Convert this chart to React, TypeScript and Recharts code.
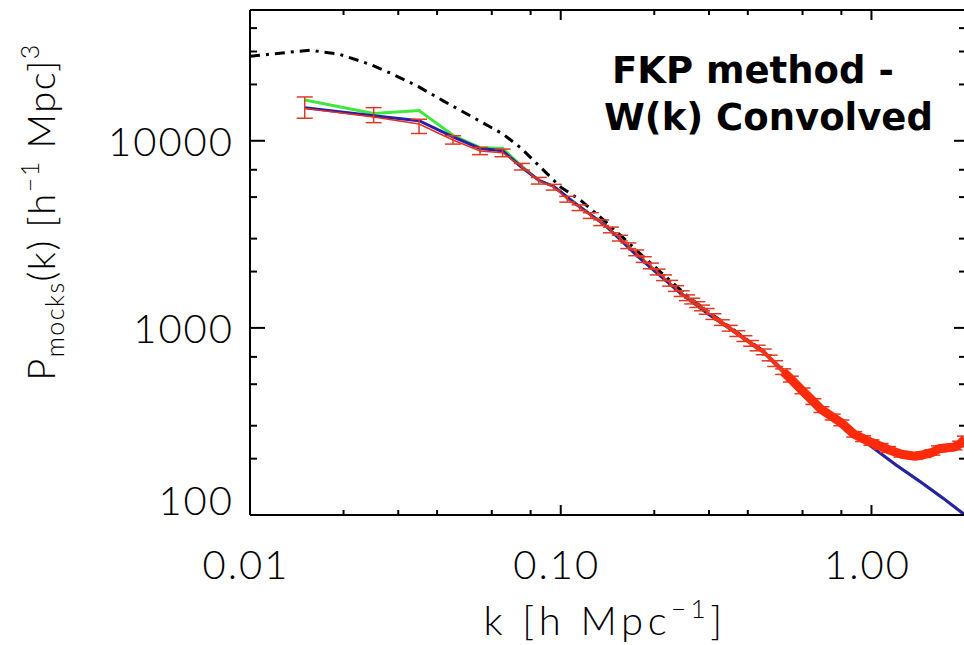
import { LineChart, Line, XAxis, YAxis, ErrorBar, Customized } from 'recharts';

// tick positions and labels
const K_MAJOR = [0.01, 0.1, 1];
const K_MAJOR_LABELS = ['0.01', '0.10', '1.00'];
const K_TICKS = [
  0.01, 0.02, 0.03, 0.04, 0.05, 0.06, 0.07, 0.08, 0.09,
  0.1, 0.2, 0.3, 0.4, 0.5, 0.6, 0.7, 0.8, 0.9, 1,
];
const P_MAJOR = [100, 1000, 10000];
const P_MAJOR_LABELS = ['100', '1000', '10000'];
const P_TICKS = [
  100, 200, 300, 400, 500, 600, 700, 800, 900,
  1000, 2000, 3000, 4000, 5000, 6000, 7000, 8000, 9000,
  10000, 20000, 30000, 40000,
];

// unconvolved / reference curve (dash-dot)
const blackK = [0.01, 0.0156, 0.0194, 0.0242, 0.0283, 0.0346, 0.042, 0.0524, 0.065, 0.0743, 0.0883, 0.1, 0.116, 0.138, 0.16, 0.185, 0.22, 0.257, 0.3, 0.35, 0.4, 0.45];
const blackP = [28300, 30500, 29000, 25700, 23000, 19600, 16300, 13300, 10900, 9180, 6930, 5650, 4800, 3750, 3000, 2390, 1850, 1470, 1210, 1010, 860, 750];

// model curves
const modelK = [0.015, 0.025, 0.035, 0.045, 0.055, 0.065, 0.075, 0.085, 0.095, 0.11, 0.14, 0.18, 0.24, 0.3, 0.4, 0.44, 0.5, 0.6, 0.69, 0.8, 0.9, 1.0, 1.2, 1.44, 1.7, 2.0];
const blueP = [15000, 13600, 12800, 10500, 9100, 8850, 7200, 6150, 5700, 4700, 3500, 2350, 1560, 1180, 850, 768, 630, 465, 368, 305, 262, 232, 185, 150, 123, 100];
const greenP = [16500, 14000, 14500, 10700, 9200, 9100, 7300, 6150, 5700, 4700, 3500, 2350, 1560, 1180, 850, 768, 630, 465, 368, 305, 262, 232, 185, 150, 123, 100];

// mean of mocks with error bars
const redK = [
  0.015, 0.025, 0.035, 0.045, 0.055, 0.065, 0.075, 0.085, 0.095, 0.105,
  0.115, 0.125, 0.135, 0.145, 0.155, 0.165, 0.175, 0.185, 0.195, 0.205,
  0.215, 0.225, 0.235, 0.245, 0.255, 0.265, 0.275, 0.285, 0.295, 0.31,
  0.33, 0.35, 0.37, 0.39, 0.41, 0.43, 0.45, 0.47, 0.49, 0.52,
  0.55, 0.6, 0.65, 0.69, 0.75, 0.8, 0.88, 0.94, 1.0, 1.07,
  1.13, 1.25, 1.38, 1.47, 1.57, 1.65, 1.75, 1.85, 1.93, 2.0,
];
const redP = [
  14900, 13400, 12300, 10100, 8820, 8630, 7280, 6120, 5650, 4875,
  4390, 3985, 3650, 3340, 3020, 2750, 2520, 2320, 2145, 1990,
  1854, 1733, 1624, 1525, 1450, 1392, 1333, 1279, 1226, 1150,
  1068, 996, 933, 877, 827, 781, 745, 691, 645, 584,
  533, 461, 404, 366, 334, 311, 270, 256, 244, 233,
  224, 211, 206, 210, 216, 226, 229, 231, 240, 255,
];
const redErrLo = [
  1700, 900, 1360, 500, 390, 410, 300, 250, 200, 175,
  155, 140, 128, 117, 106, 96, 88, 81, 75, 70,
  65, 61, 57, 53, 51, 49, 47, 45, 43, 40,
  37, 35, 33, 31, 29, 27, 26, 24, 23, 20,
  19, 16, 14, 13, 12, 11, 9, 9, 8, 8,
  8, 7, 7, 7, 7, 8, 8, 8, 8, 9,
];
const redErrHi = [
  2250, 1640, 740, 540, 390, 400, 290, 250, 200, 175,
  155, 140, 128, 117, 106, 96, 88, 81, 75, 70,
  65, 61, 57, 53, 51, 49, 47, 45, 43, 40,
  37, 35, 33, 31, 29, 27, 26, 24, 23, 20,
  19, 16, 14, 13, 12, 11, 9, 9, 8, 8,
  8, 7, 7, 7, 7, 8, 8, 8, 8, 9,
];

const blackData = blackK.map((k, i) => ({ k, p: blackP[i] }));
const blueData = modelK.map((k, i) => ({ k, p: blueP[i] }));
const greenData = modelK.map((k, i) => ({ k, p: greenP[i] }));
const redData = redK.map((k, i) => ({ k, p: redP[i], err: [redErrLo[i], redErrHi[i]] }));
const redMid = redData.filter(d => d.k >= 0.3 && d.k <= 0.6);
const redTail = redData.filter(d => d.k >= 0.52);

const tickFont = {
  fontFamily: 'Lato, "DejaVu Sans", sans-serif',
  fontWeight: 300,
  fontSize: 40,
  letterSpacing: 2,
  fill: '#000',
};

const axisLine = { stroke: '#000', strokeWidth: 2 };

// eslint-disable-next-line @typescript-eslint/no-explicit-any
const BottomTick = ({ x, y, payload }: any) => {
  const i = K_MAJOR.indexOf(payload.value);
  return (
    <g>
      <line x1={x} x2={x} y1={y} y2={y - (i >= 0 ? 10 : 5)} stroke="#000" strokeWidth={2} />
      {i >= 0 && (
        <text x={x - 4} y={y + 64} textAnchor="middle" style={tickFont}>
          {K_MAJOR_LABELS[i]}
        </text>
      )}
    </g>
  );
};

// eslint-disable-next-line @typescript-eslint/no-explicit-any
const TopTick = ({ x, y, payload }: any) => {
  const major = K_MAJOR.includes(payload.value);
  return <line x1={x} x2={x} y1={y} y2={y + (major ? 10 : 5)} stroke="#000" strokeWidth={2} />;
};

// eslint-disable-next-line @typescript-eslint/no-explicit-any
const LeftTick = ({ x, y, payload }: any) => {
  const i = P_MAJOR.indexOf(payload.value);
  // the lowest label sits on the axis instead of being centred on it
  const dy = payload.value === 100 ? 0 : 15;
  return (
    <g>
      <line x1={x} x2={x + (i >= 0 ? 15 : 7)} y1={y} y2={y} stroke="#000" strokeWidth={2} />
      {i >= 0 && (
        <text x={x - 16} y={y + dy} textAnchor="end" style={tickFont}>
          {P_MAJOR_LABELS[i]}
        </text>
      )}
    </g>
  );
};

// eslint-disable-next-line @typescript-eslint/no-explicit-any
const RightTick = ({ x, y, payload }: any) => {
  const major = P_MAJOR.includes(payload.value);
  return <line x1={x} x2={x - (major ? 11 : 6)} y1={y} y2={y} stroke="#000" strokeWidth={2} />;
};

const Annotations = () => (
  <g>
    <text
      transform="translate(55, 212) rotate(-90)"
      textAnchor="middle"
      style={{ ...tickFont, fontSize: 38, letterSpacing: 1.5 }}
    >
      <tspan>P</tspan>
      <tspan fontSize={25} dy={9}>mocks</tspan>
      <tspan dy={-9}>(k) [h</tspan>
      <tspan fontSize={25} dy={-16}>−1</tspan>
      <tspan dy={16}> Mpc]</tspan>
      <tspan fontSize={25} dy={-16}>3</tspan>
    </text>
    <text x={605} y={635} textAnchor="middle" style={{ ...tickFont, letterSpacing: 4.5 }}>
      <tspan>k [h Mpc</tspan>
      <tspan fontSize={26} dy={-17}>−1</tspan>
      <tspan dy={17}>]</tspan>
    </text>
    <g style={{ fontFamily: '"DejaVu Sans", sans-serif', fontWeight: 700, fontSize: 37, fill: '#000' }}>
      <text x={612} y={83}>FKP method -</text>
      <text x={604} y={130}>W(k) Convolved</text>
    </g>
  </g>
);

export default function App() {
  return (
    <div style={{ position: 'absolute', left: 0, top: 0, width: 964, height: 645, overflow: 'hidden', background: '#fff' }}>
      <LineChart width={966} height={645} margin={{ top: 0, right: 0, bottom: 0, left: 0 }}>
        <XAxis
          xAxisId="b"
          type="number"
          dataKey="k"
          scale="log"
          domain={[0.01, 2]}
          allowDataOverflow
          ticks={K_TICKS}
          tick={BottomTick}
          tickLine={false}
          tickSize={0}
          tickMargin={0}
          axisLine={axisLine}
          height={130}
        />
        <XAxis
          xAxisId="t"
          orientation="top"
          type="number"
          dataKey="k"
          scale="log"
          domain={[0.01, 2]}
          allowDataOverflow
          ticks={K_TICKS}
          tick={TopTick}
          tickLine={false}
          tickSize={0}
          tickMargin={0}
          axisLine={axisLine}
          height={10}
        />
        <YAxis
          yAxisId="l"
          type="number"
          scale="log"
          domain={[100, 50000]}
          allowDataOverflow
          ticks={P_TICKS}
          tick={LeftTick}
          tickLine={false}
          tickSize={0}
          tickMargin={0}
          axisLine={axisLine}
          width={250}
        />
        <YAxis
          yAxisId="r"
          orientation="right"
          type="number"
          scale="log"
          domain={[100, 50000]}
          allowDataOverflow
          ticks={P_TICKS}
          tick={RightTick}
          tickLine={false}
          tickSize={0}
          tickMargin={0}
          axisLine={axisLine}
          width={1}
        />
        <Line xAxisId="b" yAxisId="l" data={greenData} dataKey="p" type="linear" stroke="#3ee83e" strokeWidth={3} dot={false} isAnimationActive={false} />
        <Line xAxisId="b" yAxisId="l" data={blueData} dataKey="p" type="linear" stroke="#2c1eaa" strokeWidth={3} dot={false} isAnimationActive={false} />
        <Line xAxisId="b" yAxisId="l" data={blackData} dataKey="p" type="linear" stroke="#000" strokeWidth={3} strokeDasharray="10 6 3 6" dot={false} isAnimationActive={false} />
        <Line xAxisId="b" yAxisId="l" data={redData} dataKey="p" type="linear" stroke="#e8321e" strokeWidth={1.5} dot={false} isAnimationActive={false}>
          <ErrorBar dataKey="err" width={8} stroke="#dd3a26" strokeWidth={1.5} direction="y" />
        </Line>
        <Line xAxisId="b" yAxisId="l" data={redMid} dataKey="p" type="linear" stroke="#f5321a" strokeWidth={4} dot={false} isAnimationActive={false} />
        <Line xAxisId="b" yAxisId="l" data={redTail} dataKey="p" type="linear" stroke="#ff2a0a" strokeWidth={9} strokeLinejoin="round" dot={false} isAnimationActive={false} />
        <Customized component={Annotations} />
      </LineChart>
    </div>
  );
}
